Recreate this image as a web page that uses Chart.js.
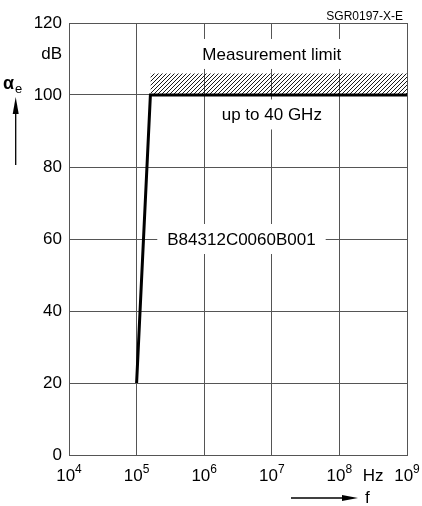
<!DOCTYPE html>
<html>
<head>
<meta charset="utf-8">
<script src="https://cdn.jsdelivr.net/npm/chart.js@4"></script>
<style>
  html, body { margin: 0; padding: 0; background: #fff; }
  #wrap { width: 422px; height: 506px; }
</style>
</head>
<body>
<div id="wrap"><canvas id="c" width="422" height="506"></canvas></div>
<script>
// ---- data ----
const xTicks = [1e4, 1e5, 1e6, 1e7, 1e8, 1e9];
const xExponents = [4, 5, 6, 7, 8, 9];
const yTicks = [0, 20, 40, 60, 80, 100, 120];
const curveFreq = [1e5, 1.6e5, 1e9];
const curveAtt = [20, 100, 100];
const limitFreq = [1.6e5, 1e9];
const limitLow = 100;
const limitHigh = 106;
const noteTexts = ['Measurement limit', 'up to 40 GHz', 'B84312C0060B001'];
const noteFreq = [1e7, 1e7, 3.56e6];
const noteAtt = [111.4, 94.6, 60];
const xUnit = 'Hz';
const yUnit = 'dB';
const figId = 'SGR0197-X-E';

const FONT = '"Liberation Sans", Arial, sans-serif';

// hatch pattern
function makeHatch() {
  const p = document.createElement('canvas');
  p.width = 4; p.height = 4;
  const g = p.getContext('2d');
  g.strokeStyle = '#000';
  g.lineWidth = 0.9;
  g.beginPath();
  g.moveTo(-1, 1); g.lineTo(1, -1);
  g.moveTo(0, 4); g.lineTo(4, 0);
  g.moveTo(3, 5); g.lineTo(5, 3);
  g.stroke();
  return g.createPattern(p, 'repeat');
}

const decor = {
  id: 'decor',
  afterDraw(chart) {
    const ctx = chart.ctx;
    const xs = chart.scales.x, ys = chart.scales.y;
    ctx.save();
    // notes with white boxes
    ctx.font = '17px ' + FONT;
    ctx.textAlign = 'center';
    ctx.textBaseline = 'middle';
    noteTexts.forEach((t, i) => {
      const px = xs.getPixelForValue(noteFreq[i]);
      const py = ys.getPixelForValue(noteAtt[i]);
      const w = ctx.measureText(t).width + 20;
      ctx.fillStyle = '#fff';
      ctx.fillRect(px - w / 2, py - 15, w, 30);
      ctx.fillStyle = '#000';
      ctx.fillText(t, px, py + 1);
    });
    // x tick labels 10^n
    const baseY = chart.chartArea.bottom + 26;
    xTicks.forEach((v, i) => {
      const px = xs.getPixelForValue(v);
      ctx.font = '17px ' + FONT;
      const wb = ctx.measureText('10').width;
      ctx.font = '12px ' + FONT;
      const we = ctx.measureText(String(xExponents[i])).width;
      const left = px - (wb + we) / 2;
      ctx.textAlign = 'left';
      ctx.textBaseline = 'alphabetic';
      ctx.fillStyle = '#000';
      ctx.font = '17px ' + FONT;
      ctx.fillText('10', left, baseY);
      ctx.font = '12px ' + FONT;
      ctx.fillText(String(xExponents[i]), left + wb, baseY - 8);
    });
    // Hz
    ctx.font = '17px ' + FONT;
    ctx.textAlign = 'center';
    ctx.fillText(xUnit, xs.getPixelForValue(Math.sqrt(1e8 * 1e9)), baseY);
    // dB
    ctx.textAlign = 'right';
    ctx.textBaseline = 'middle';
    ctx.fillText(yUnit, chart.chartArea.left - 7, ys.getPixelForValue(120) + 31);
    // figure id
    ctx.font = '12px ' + FONT;
    ctx.textBaseline = 'alphabetic';
    ctx.fillText(figId, chart.chartArea.right - 4, 20);
    // alpha_e
    ctx.textAlign = 'left';
    ctx.font = 'bold 18px ' + FONT;
    ctx.fillText('\u03B1', 3, 89);
    ctx.font = '13px ' + FONT;
    ctx.fillText('e', 15, 93);
    // y arrow
    ctx.strokeStyle = '#000';
    ctx.fillStyle = '#000';
    ctx.lineWidth = 1.3;
    ctx.beginPath();
    ctx.moveTo(15.7, 165); ctx.lineTo(15.7, 110);
    ctx.stroke();
    ctx.beginPath();
    ctx.moveTo(15.7, 97); ctx.lineTo(12.7, 114); ctx.lineTo(18.7, 114); ctx.closePath();
    ctx.fill();
    // x arrow
    ctx.beginPath();
    ctx.moveTo(291, 498); ctx.lineTo(346, 498);
    ctx.stroke();
    ctx.beginPath();
    ctx.moveTo(358, 498); ctx.lineTo(342, 495); ctx.lineTo(342, 501); ctx.closePath();
    ctx.fill();
    ctx.font = '17px ' + FONT;
    ctx.textAlign = 'left';
    ctx.fillText('f', 365, 503);
    ctx.restore();
  }
};

new Chart(document.getElementById('c'), {
  type: 'line',
  data: {
    datasets: [
      {
        data: curveFreq.map((f, i) => ({ x: f, y: curveAtt[i] })),
        borderColor: '#000',
        borderWidth: 3,
        pointRadius: 0,
        tension: 0,
        fill: false,
        order: 0
      },
      {
        data: limitFreq.map(f => ({ x: f, y: limitHigh })),
        borderWidth: 0,
        borderColor: 'rgba(0,0,0,0)',
        pointRadius: 0,
        fill: { value: limitLow },
        backgroundColor: makeHatch(),
        order: 1
      }
    ]
  },
  options: {
    responsive: false,
    animation: false,
    events: [],
    layout: { padding: { top: 23, right: 15, left: 0, bottom: 0 } },
    plugins: { legend: { display: false }, tooltip: { enabled: false } },
    scales: {
      x: {
        type: 'logarithmic',
        min: xTicks[0],
        max: xTicks[xTicks.length - 1],
        afterBuildTicks: s => { s.ticks = xTicks.map(v => ({ value: v })); },
        afterFit: s => { s.height = 51; },
        ticks: { display: false },
        grid: { color: '#555', lineWidth: 1, drawTicks: false },
        border: { color: '#555', width: 1 }
      },
      y: {
        type: 'linear',
        min: 0,
        max: 120,
        afterBuildTicks: s => { s.ticks = yTicks.map(v => ({ value: v })); },
        afterFit: s => { s.width = 69; },
        ticks: { color: '#000', font: { family: FONT, size: 17 }, padding: 7 },
        grid: { color: '#555', lineWidth: 1, drawTicks: false },
        border: { color: '#555', width: 1 }
      }
    }
  },
  plugins: [decor]
});
</script>
</body>
</html>
